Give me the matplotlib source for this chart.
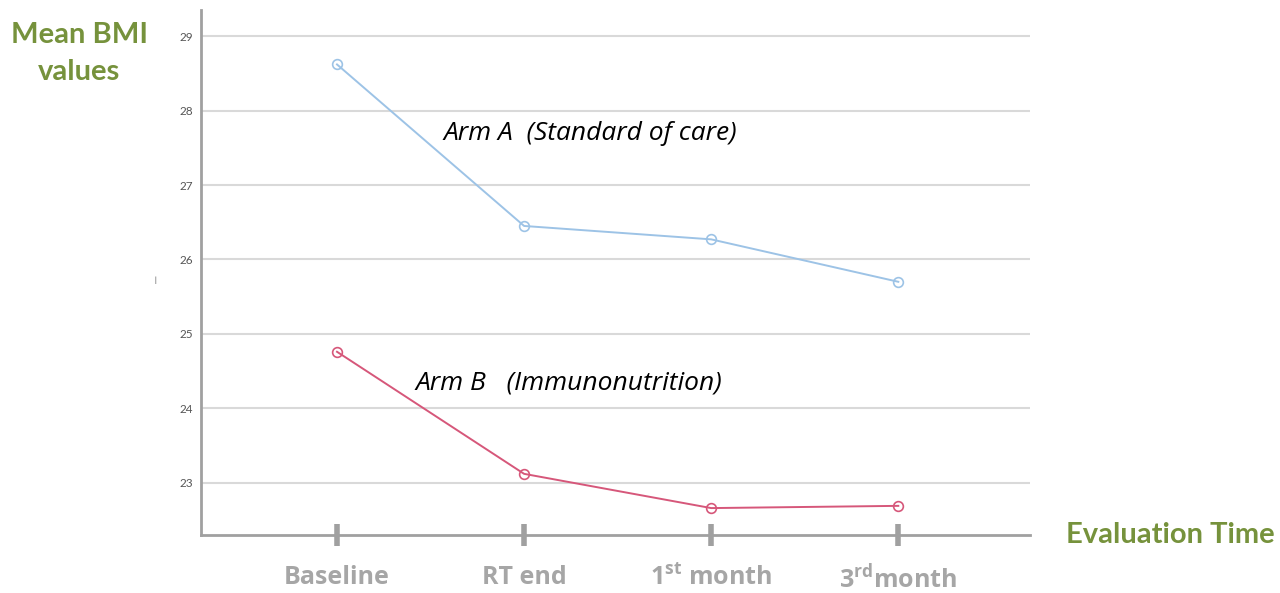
import numpy as np
import matplotlib.pyplot as plt

# mean BMI per evaluation time
times = ["Baseline", "RT end", "1$^{st}$ month", "3$^{rd}$month"]
arm_a = [28.62, 26.45, 26.27, 25.70]
arm_b = [24.76, 23.12, 22.66, 22.69]
yticks = [23, 24, 25, 26, 27, 28, 29]

plt.rcParams['font.family'] = ['Lato', 'DejaVu Sans']
plt.rcParams['mathtext.fontset'] = 'custom'
plt.rcParams['mathtext.rm'] = 'Open Sans:bold'
plt.rcParams['mathtext.default'] = 'rm'

green = "#76923c"
gray = "#a6a6a6"

fig = plt.figure(figsize=(12.8, 5.93), dpi=100)
ax = fig.add_axes([0.157, 0.098, 0.648, 0.885])

x = np.arange(len(times))
ax.plot(x, arm_a, color="#9dc3e6", lw=1.4, marker="o", ms=7, mfc="none", mec="#9dc3e6", mew=1.2)
ax.plot(x, arm_b, color="#d6577a", lw=1.4, marker="o", ms=7, mfc="none", mec="#d6577a", mew=1.2)

ax.set_xlim(-0.727, 3.706)
ax.set_ylim(22.30, 29.35)
ax.set_yticks(yticks)
ax.yaxis.grid(True, color="#d9d9d9", lw=1.5)
ax.set_axisbelow(True)

for s in ["top", "right"]:
    ax.spines[s].set_visible(False)
for s in ["left", "bottom"]:
    ax.spines[s].set_color("#a0a0a0")
    ax.spines[s].set_linewidth(2)

ax.tick_params(axis="y", length=0, labelsize=8.5, labelcolor="#555555", pad=6)
ax.set_xticks(x)
ax.set_xticklabels(times)
ax.tick_params(axis="x", direction="inout", length=16, width=4, color="#a0a0a0",
               labelsize=18, labelcolor=gray, pad=14)
for lab in ax.get_xticklabels():
    lab.set_fontweight("bold")
    lab.set_family(["Open Sans", "DejaVu Sans"])

ax.text(0.57, 27.60, "Arm A  (Standard of care)", fontsize=19, style="italic", color="black",
        family=["Open Sans", "DejaVu Sans"])
ax.text(0.42, 24.25, "Arm B   (Immunonutrition)", fontsize=19, style="italic", color="black",
        family=["Open Sans", "DejaVu Sans"])

fig.text(0.062, 0.91, "Mean BMI\nvalues", color=green, fontsize=21, fontweight="bold",
         ha="center", va="center", linespacing=1.5)
fig.text(0.996, 0.097, "Evaluation Time", color=green, fontsize=21, fontweight="bold",
         ha="right", va="center")
fig.text(0.121, 0.527, "|", fontsize=5, color="#333333", ha="center", va="center")

fig.savefig("out.png", dpi=100)
